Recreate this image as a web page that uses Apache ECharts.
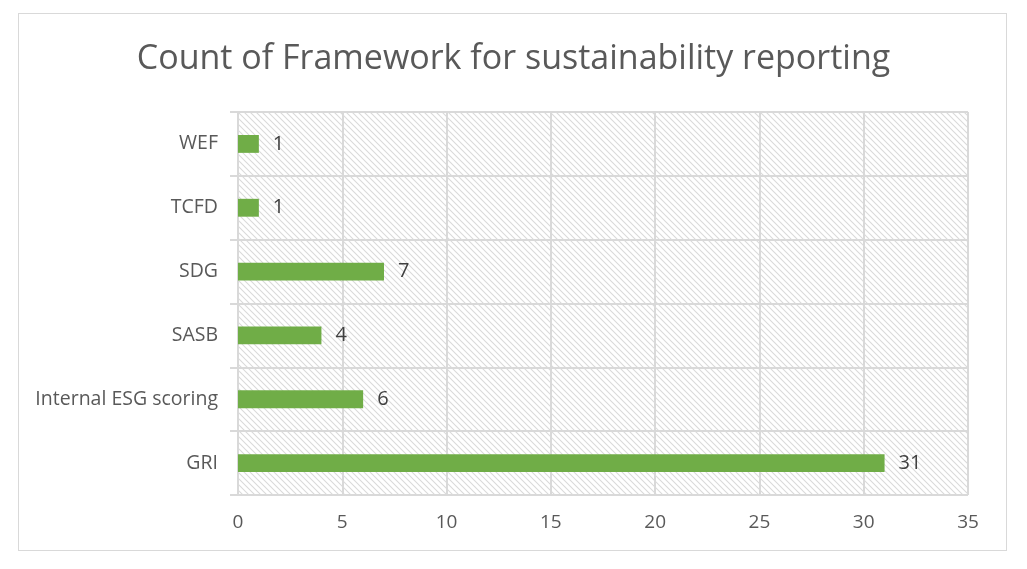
<!DOCTYPE html>
<html><head><meta charset="utf-8">
<script src="https://cdn.jsdelivr.net/npm/echarts@6/dist/echarts.min.js"></script>
<style>html,body{margin:0;padding:0;background:#fff}#c{width:1027px;height:569px}
#frame{position:absolute;left:18px;top:13px;width:989px;height:538px;border:1px solid #d9d9d9;box-sizing:border-box;pointer-events:none}</style>
</head><body><div id="c"></div><div id="frame"></div>
<script>
const categories = ['GRI', 'Internal ESG scoring', 'SASB', 'SDG', 'TCFD', 'WEF'];
const counts = [31, 6, 4, 7, 1, 1];
const xTicks = [0, 5, 10, 15, 20, 25, 30, 35];

const pc = document.createElement('canvas');
pc.width = 6; pc.height = 6;
const g = pc.getContext('2d');
g.fillStyle = '#ffffff'; g.fillRect(0,0,6,6);
g.strokeStyle = '#dadada'; g.lineWidth = 1.1;
g.beginPath();
g.moveTo(0,0); g.lineTo(6,6);
g.moveTo(-3,3); g.lineTo(3,9);
g.moveTo(3,-3); g.lineTo(9,3);
g.stroke();

const chart = echarts.init(document.getElementById('c'));
chart.setOption({
  animation: false,
  title: {text: 'Count of Framework for sustainability reporting', left: 'center', top: 37,
    textStyle: {fontFamily: 'Open Sans', fontWeight: 'normal', fontSize: 34, color: '#595959'}},
  grid: {left: 238, right: 59, top: 112, bottom: 74, show: true, borderWidth: 0,
    backgroundColor: {image: pc, repeat: 'repeat'}},
  xAxis: {type: 'value', min: 0, max: 35, interval: 5,
    axisLine: {show: false}, axisTick: {show: false},
    splitLine: {show: true, lineStyle: {color: '#d9d9d9', width: 2}},
    axisLabel: {color: '#595959', fontSize: 19, fontFamily: 'Open Sans', margin: 18}},
  yAxis: {type: 'category', data: categories,
    axisLine: {show: true, lineStyle: {color: '#d9d9d9', width: 2}},
    axisTick: {show: true, length: 8, lineStyle: {color: '#d9d9d9', width: 2}},
    splitLine: {show: true, lineStyle: {color: '#d9d9d9', width: 2}},
    axisLabel: {color: '#595959', fontSize: 19.5, fontFamily: 'Open Sans', margin: 20}},
  series: [{type: 'bar', data: counts, barWidth: '28%',
    itemStyle: {color: '#70AD47'},
    label: {show: true, position: 'right', distance: 14, color: '#404040', fontSize: 20, fontFamily: 'Open Sans'}}]
});
</script></body></html>
